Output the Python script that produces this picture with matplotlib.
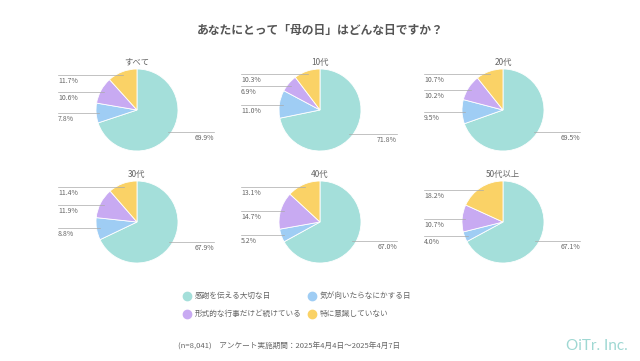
import numpy as np
import matplotlib.pyplot as plt
from matplotlib.lines import Line2D

plt.rcParams['font.family'] = ['Noto Sans CJK JP', 'DejaVu Sans']

title = 'あなたにとって「母の日」はどんな日ですか？'
groups = ['すべて', '10代', '20代', '30代', '40代', '50代以上']
categories = ['感謝を伝える大切な日', '気が向いたらなにかする日',
              '形式的な行事だけど続けている', '特に意識していない']
# order: teal, blue, purple, yellow (clockwise from top)
shares = {
    'すべて':   [69.9, 7.8, 10.6, 11.7],
    '10代':     [71.8, 11.0, 6.9, 10.3],
    '20代':     [69.5, 9.5, 10.2, 10.7],
    '30代':     [67.9, 8.8, 11.9, 11.4],
    '40代':     [67.0, 5.2, 14.7, 13.1],
    '50代以上': [67.1, 4.0, 10.7, 18.2],
}
colors = ['#A4DFDA', '#9FCDF4', '#C8AAF2', '#FAD266']
footer = '(n=8,041)　アンケート実施期間：2025年4月4日～2025年4月7日'

W, H = 640, 361
fig = plt.figure(figsize=(W / 100, H / 100), dpi=100)
fig.patch.set_facecolor('white')

txt = '#666666'
line_c = '#AAAAAA'
R = 41
col_x = [137, 320, 503]
row_y = [110, 222]

fig.text(320 / W, 1 - 30 / H, title, ha='center', va='center',
         fontsize=8.5, color='#555555', fontweight='bold')

for i, g in enumerate(groups):
    cx = col_x[i % 3]
    cy = row_y[i // 3]
    aw, ah = 200, 120
    ax = fig.add_axes([(cx - aw / 2) / W, (H - cy - ah / 2) / H, aw / W, ah / H])
    ax.set_xlim(-aw / 2, aw / 2)
    ax.set_ylim(-ah / 2, ah / 2)
    ax.set_aspect('equal')
    ax.axis('off')
    vals = shares[g]
    ax.pie(vals, colors=colors, startangle=90, counterclock=False, radius=R,
           center=(0, 0), frame=True,
           wedgeprops=dict(linewidth=0.6, edgecolor='white'))
    ax.set_xlim(-aw / 2, aw / 2)
    ax.set_ylim(-ah / 2, ah / 2)
    ax.axis('off')
    ax.text(0, R + 7, g, ha='center', va='center', fontsize=6, color=txt)

    cum = 0
    for k, v in enumerate(vals):
        mid = (cum + v / 2) / 100 * 360
        cum += v
        ang = np.deg2rad(mid)
        px = 0.92 * R * np.sin(ang)
        py = 0.92 * R * np.cos(ang)
        label = f'{v:.1f}%'
        if px >= 0:
            ex = 77
            ax.add_line(Line2D([px, ex], [py, py], color=line_c, lw=0.5))
            ax.text(ex, py - 2, label, ha='right', va='top', fontsize=5, color=txt)
        else:
            ex = -79
            ax.add_line(Line2D([ex, px], [py, py], color=line_c, lw=0.5))
            ax.text(ex, py - 2, label, ha='left', va='top', fontsize=5, color=txt)

# legend
leg_pos = [(187, 296), (312, 296), (187, 314), (312 + 0, 314)]
leg_pos[3] = (344 - 32 + 0, 314)
for (lx, ly), c, lab in zip(leg_pos, colors, categories):
    fig.add_artist(Line2D([lx / W], [1 - ly / H], marker='o', markersize=6,
                          color=c, linestyle='none'))
    fig.text((lx + 8) / W, 1 - ly / H, lab, ha='left', va='center',
             fontsize=5.5, color=txt)

fig.text(178 / W, 1 - 347 / H, footer, ha='left', va='center', fontsize=5.5, color=txt)
fig.text(628 / W, 1 - 346 / H, 'OiTr. Inc.', ha='right', va='center', fontsize=11,
         color='#9FD8D3', family='Lato')

fig.savefig('out.png', dpi=100, facecolor='white')
